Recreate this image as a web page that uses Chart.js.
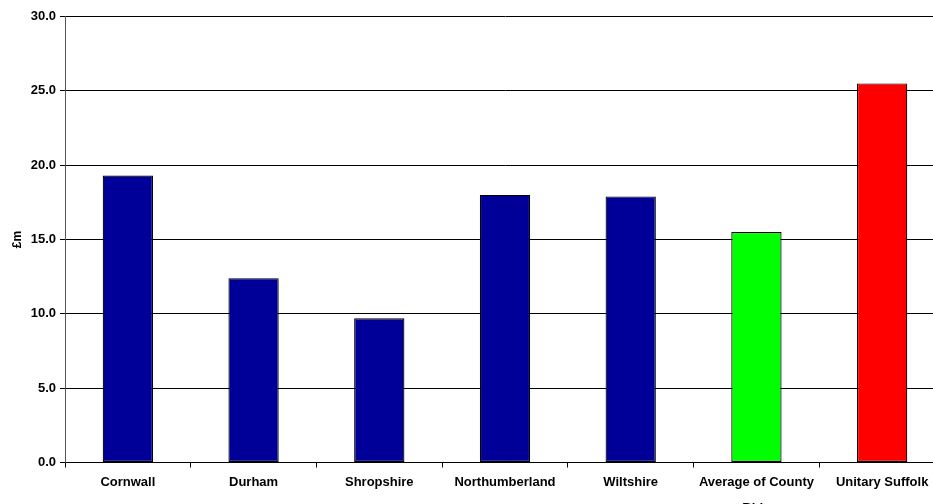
<!DOCTYPE html>
<html>
<head>
<meta charset="utf-8">
<script src="https://cdn.jsdelivr.net/npm/chart.js@4"></script>
<style>
html,body{margin:0;padding:0;background:#fff;overflow:hidden;width:933px;height:504px;}
#wrap{width:945px;height:504px;}
</style>
</head>
<body>
<div id="wrap"><canvas id="c" width="945" height="504"></canvas></div>
<script>
const categories = ["Cornwall", "Durham", "Shropshire", "Northumberland", "Wiltshire", ["Average of County", "Bids"], "Unitary Suffolk"];
const values = [19.3, 12.4, 9.7, 18.0, 17.9, 15.5, 25.5];
const barColors = ["#000099", "#000099", "#000099", "#000099", "#000099", "#00FF00", "#FF0000"];
const yTitle = "£m";
const yMin = 0, yMax = 30, yStep = 5;

Chart.defaults.font.family = "'Liberation Sans', Arial, sans-serif";
Chart.defaults.color = "#000";

new Chart(document.getElementById('c'), {
  type: 'bar',
  data: {
    labels: categories,
    datasets: [{
      data: values,
      backgroundColor: barColors,
      borderColor: '#000',
      borderWidth: 1.2,
      borderSkipped: false,
      barPercentage: 0.4,
      categoryPercentage: 1.0
    }]
  },
  options: {
    responsive: false,
    animation: false,
    layout: { padding: { top: 16.5, right: 0, left: 0, bottom: 0 } },
    plugins: { legend: { display: false }, tooltip: { enabled: false } },
    scales: {
      x: {
        offset: true,
        grid: { display: true, drawOnChartArea: false, offset: true, tickLength: 5, color: '#000', lineWidth: 1 },
        border: { display: true, color: '#000', width: 1 },
        ticks: { font: { size: 13, weight: 'bold', lineHeight: 2 }, padding: 1.5, maxRotation: 0, autoSkip: false, color: '#000' },
        afterFit: (s) => { s.height = 41.5; }
      },
      y: {
        min: yMin, max: yMax,
        grid: { color: '#000', lineWidth: 1, tickLength: 5 },
        border: { display: true, color: '#555', width: 1 },
        ticks: { stepSize: yStep, font: { size: 13, weight: 'bold' }, padding: 4, color: '#000',
                 callback: (v) => Number(v).toFixed(1) },
        title: { display: true, text: yTitle, font: { size: 12, weight: 'bold' }, padding: { top: 10, bottom: 0 }, color: '#000' },
        afterFit: (s) => { s.width = 65; }
      }
    }
  }
});
</script>
</body>
</html>
